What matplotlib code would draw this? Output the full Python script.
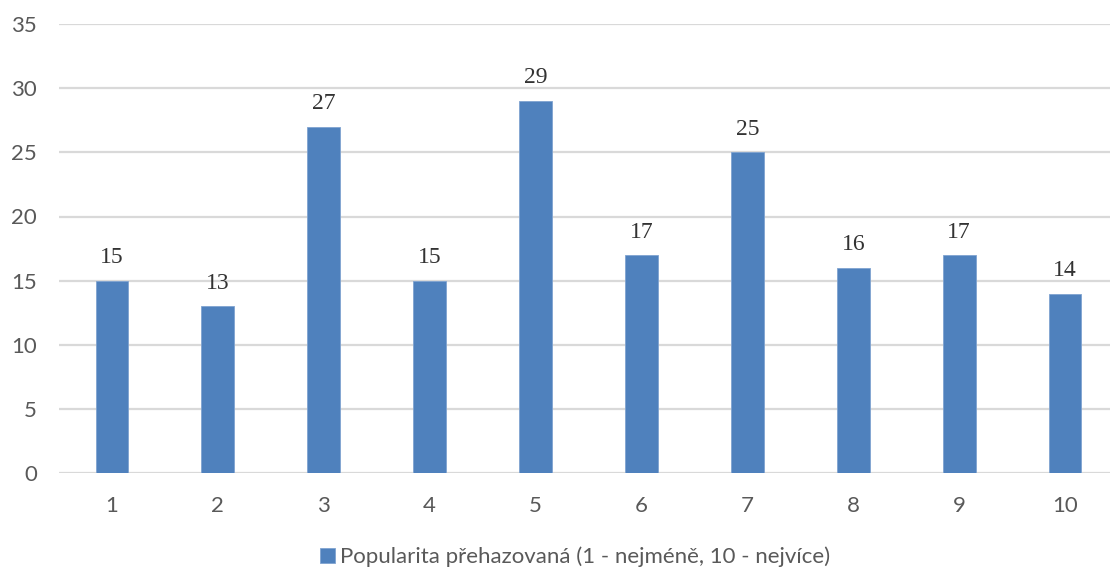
import matplotlib
matplotlib.use("Agg")
import matplotlib.pyplot as plt
import numpy as np

# popularity score categories and counts
categories = ["1", "2", "3", "4", "5", "6", "7", "8", "9", "10"]
counts = [15, 13, 27, 15, 29, 17, 25, 16, 17, 14]
series_name = "Popularita přehazovaná (1 - nejméně, 10 - nejvíce)"
yticks = [0, 5, 10, 15, 20, 25, 30, 35]

bar_col = "#4F81BD"
grid_col = "#D9D9D9"
txt_col = "#595959"
sans = "Lato"

fig = plt.figure(figsize=(11.1, 5.71), dpi=100)
ax = fig.add_axes([59 / 1110, 1 - 473.3 / 571, 1059 / 1110, 449.4 / 571])

x = np.arange(len(categories))
bars = ax.bar(x, counts, width=0.31, color=bar_col, edgecolor="#7FA3D0",
              linewidth=0.6, zorder=3, label=series_name)

for xi, v in zip(x, counts):
    ax.annotate(str(v), (xi, v), xytext=(0, 9), textcoords="offset points",
                ha="center", va="bottom", fontsize=17,
                family="Liberation Serif", color="#333333")

ax.set_xlim(-0.5, len(categories) - 0.5)
ax.set_ylim(0, 35)
ax.set_yticks(yticks)
ax.set_xticks(x)
ax.set_xticklabels(categories)
ax.yaxis.grid(True, color=grid_col, linewidth=1.6, zorder=0)
ax.set_axisbelow(True)
for s in ax.spines.values():
    s.set_visible(False)
ax.tick_params(axis="both", length=0, labelsize=16, labelcolor=txt_col)
ax.tick_params(axis="x", pad=16)
ax.tick_params(axis="y", pad=16)
for lab in ax.get_xticklabels() + ax.get_yticklabels():
    lab.set_family(sans)

leg = fig.legend(handles=[bars], labels=[series_name], loc="center",
                 bbox_to_anchor=(575 / 1110, 1 - 557 / 571), frameon=False,
                 handlelength=0.7, handleheight=0.7, handletextpad=0.2,
                 prop={"family": sans, "size": 16})
for t in leg.get_texts():
    t.set_color(txt_col)

fig.savefig("out.png", dpi=100)
